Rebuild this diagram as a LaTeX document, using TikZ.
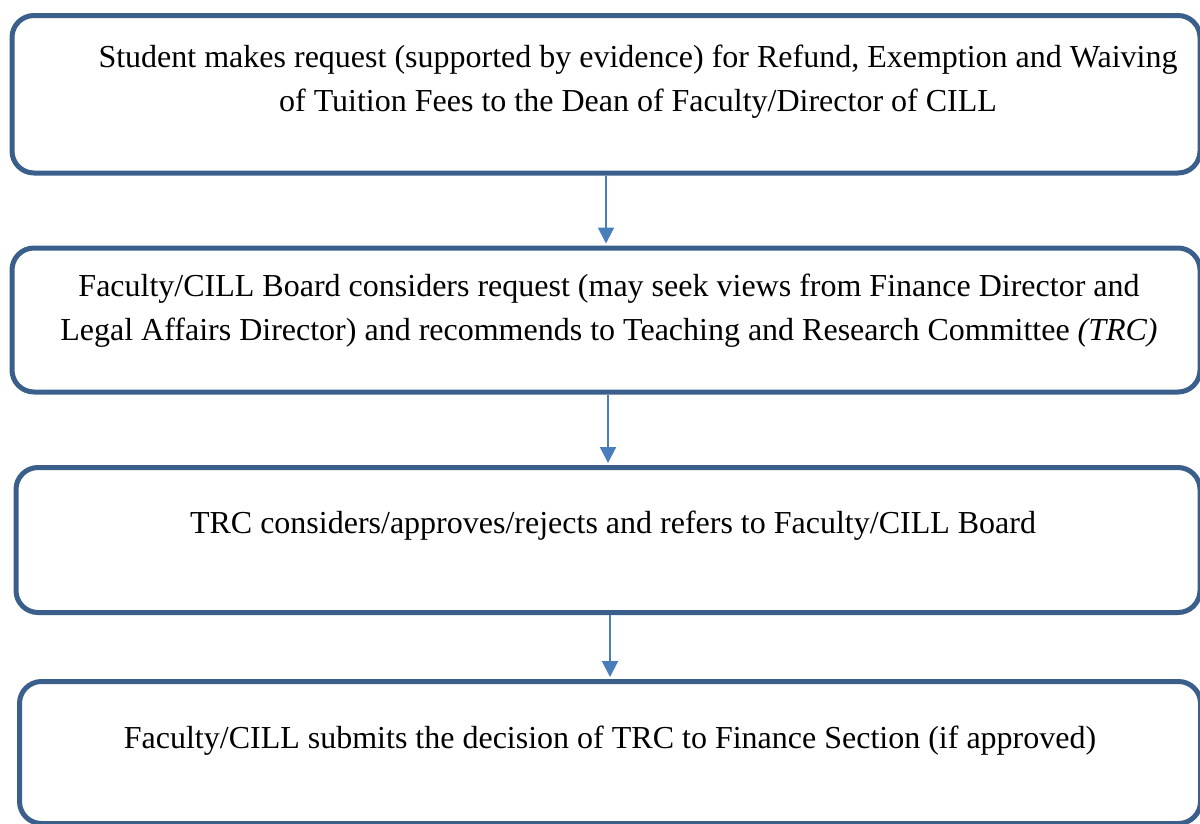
\documentclass[tikz,border=0pt]{standalone}
\usepackage{fontspec}
\setmainfont{Liberation Serif}
\usetikzlibrary{arrows.meta,positioning}
\definecolor{boxblue}{HTML}{3A5F8B}
\definecolor{arrowblue}{HTML}{4A7EBB}

\begin{document}
\begin{tikzpicture}[
  x=1bp, y=-1bp,
  box/.style={draw=boxblue, line width=5bp, rounded corners=22bp, anchor=north west},
  txt/.style={align=center, inner sep=0pt, font=\fontsize{32bp}{44bp}\selectfont},
  arrow/.style={-{Triangle[length=16bp,width=16bp]}, arrowblue, line width=2bp, shorten >=2bp}
]
\useasboundingbox (0,0) rectangle (1200,824);

\node[box, minimum width=1188bp, minimum height=157.5bp] (req) at (9.5,13) {};
\node[box, minimum width=1188bp, minimum height=144bp] (board) at (9.5,245.5) {};
\node[box, minimum width=1184bp, minimum height=145bp] (trc) at (13.5,465) {};
\node[box, minimum width=1181bp, minimum height=142bp] (fin) at (17,679) {};

\node[txt, below=32bp of req.north, xshift=32bp] (reqtext)
{Student makes request (supported by evidence) for Refund, Exemption and Waiving\\
of Tuition Fees to the Dean of Faculty/Director of CILL};
\node[txt, below=28bp of board.north, xshift=3bp] (boardtext)
{Faculty/CILL Board considers request (may seek views from Finance Director and\\
Legal Affairs Director) and recommends to Teaching and Research Committee \textit{(TRC)}};
\node[txt, below=46bp of trc.north, xshift=5bp] (trctext)
{TRC considers/approves/rejects and refers to Faculty/CILL Board};
\node[txt, below=47bp of fin.north, xshift=0bp] (fintext)
{Faculty/CILL submits the decision of TRC to Finance Section (if approved)};

\draw[arrow] (req.south) -- (req.south |- board.north);
\draw[arrow] (board.south -| trc.north) -- (trc.north);
\draw[arrow] (trc.south -| fin.north) -- (fin.north);
\end{tikzpicture}
\end{document}
